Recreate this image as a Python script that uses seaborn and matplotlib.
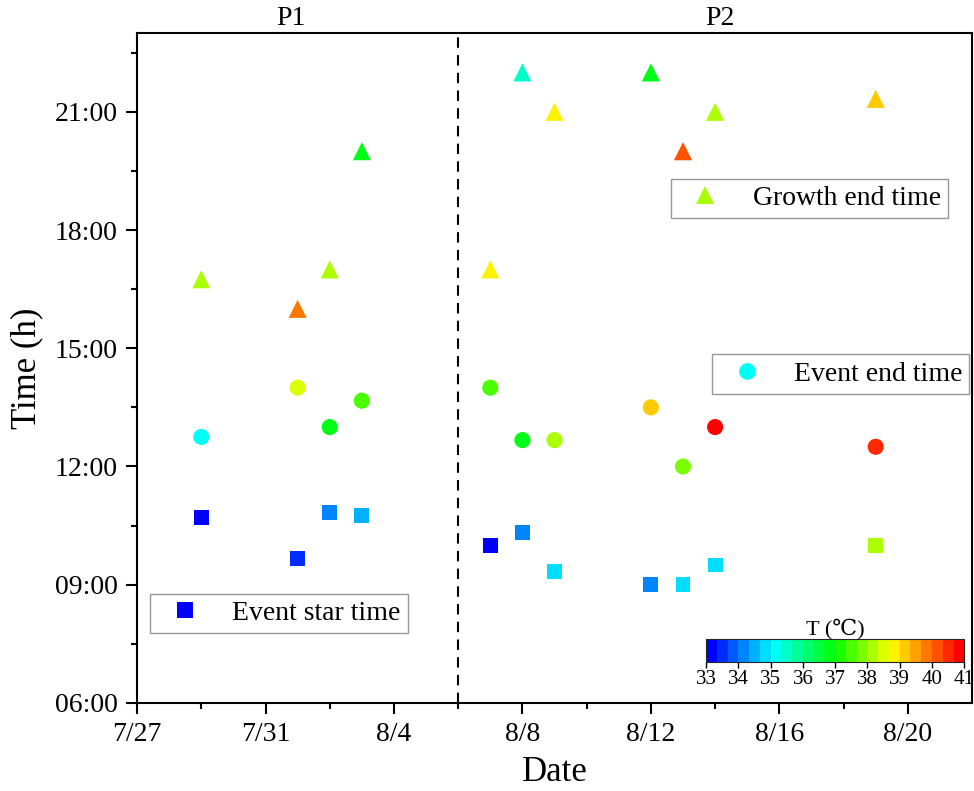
import numpy as np
import pandas as pd
import matplotlib
matplotlib.use("Agg")
import matplotlib.pyplot as plt
from matplotlib.colors import LinearSegmentedColormap, Normalize
from matplotlib.cm import ScalarMappable
from matplotlib.lines import Line2D
import seaborn as sns

# ── data ──────────────────────────────────────────────────────────────────────
dates = ["7/29", "8/1", "8/2", "8/3", "8/7", "8/8", "8/9", "8/12", "8/13", "8/14", "8/19"]

# times in hours
start_time = [10.70, 9.67, 10.83, 10.75, 10.00, 10.33, 9.33, 9.00, 9.00, 9.50, 10.00]
end_time   = [12.75, 14.00, 13.00, 13.67, 14.00, 12.67, 12.67, 13.50, 12.00, 13.00, 12.50]
growth_end = [16.75, 16.00, 17.00, 20.00, 17.00, 22.00, 21.00, 22.00, 20.00, 21.00, 21.33]

# temperature (degC) at each time
start_T  = [33.1, 33.4, 34.3, 34.6, 33.3, 34.0, 34.9, 34.3, 34.9, 34.9, 38.1]
end_T    = [35.3, 38.5, 36.8, 37.4, 37.4, 36.8, 38.1, 39.3, 37.8, 41.0, 40.6]
growth_T = [38.1, 39.7, 38.1, 36.8, 38.8, 35.4, 38.8, 36.9, 40.2, 38.1, 39.3]

x_ticklabels = ["7/27", "7/31", "8/4", "8/8", "8/12", "8/16", "8/20"]
y_ticklabels = ["06:00", "09:00", "12:00", "15:00", "18:00", "21:00"]
split_date = "8/6"

# day offsets from 7/27
ref = pd.to_datetime("7/27", format="%m/%d")
day = (pd.to_datetime(dates, format="%m/%d") - ref).days.values
split_day = (pd.to_datetime(split_date, format="%m/%d") - ref).days
xtick_pos = (pd.to_datetime(x_ticklabels, format="%m/%d") - ref).days.values
ytick_pos = [int(s[:2]) for s in y_ticklabels]

df = pd.DataFrame({"day": day,
                   "start": start_time, "end": end_time, "growth": growth_end,
                   "T_start": start_T, "T_end": end_T, "T_growth": growth_T})

# ── style ─────────────────────────────────────────────────────────────────────
sns.set_theme(style="ticks")
plt.rcParams["font.family"] = ["Liberation Serif", "DejaVu Serif"]
plt.rcParams["text.color"] = "black"
plt.rcParams["axes.labelcolor"] = "black"
plt.rcParams["xtick.color"] = "black"
plt.rcParams["ytick.color"] = "black"

cmap = LinearSegmentedColormap.from_list(
    "rainbow_origin",
    [(0.0, "#0000ff"), (0.25, "#00ffff"), (0.5, "#00ff00"),
     (0.725, "#ffff00"), (1.0, "#ff0000")], N=24)
norm = Normalize(33, 41)

fig = plt.figure(figsize=(9.74, 7.91), dpi=100)
ax = fig.add_axes([0.1407, 0.1113, 0.8573, 0.847])

kw = dict(palette=cmap, hue_norm=(33, 41), legend=False, linewidth=0, ax=ax)
sns.scatterplot(data=df, x="day", y="start", hue="T_start", marker="s", s=115, **kw)
sns.scatterplot(data=df, x="day", y="end", hue="T_end", marker="o", s=135, **kw)
sns.scatterplot(data=df, x="day", y="growth", hue="T_growth", marker="^", s=170, **kw)

ax.axvline(split_day, color="black", lw=1.5, ls=(0, (5, 3.5)))

ax.set_xlim(0, 26)
ax.set_ylim(6, 23)
ax.set_xticks(xtick_pos)
ax.set_xticklabels(x_ticklabels)
ax.set_xticks(xtick_pos[:-1] + 2, minor=True)
ax.set_yticks(ytick_pos)
ax.set_yticklabels(y_ticklabels)
ax.set_yticks(np.arange(7.5, 23, 3), minor=True)

ax.tick_params(axis="both", which="major", direction="out", length=8, width=1.5,
               labelsize=20, colors="black", pad=6)
ax.tick_params(axis="both", which="minor", direction="out", length=4.5, width=1.5)
ax.tick_params(top=False, right=False)
for sp in ax.spines.values():
    sp.set_linewidth(1.5)
    sp.set_color("black")

ax.set_xlabel("Date", fontsize=25, labelpad=6)
ax.set_ylabel("Time (h)", fontsize=25, labelpad=8)

ax.text(0.184, 1.003, "P1", transform=ax.transAxes, ha="center", va="bottom", fontsize=20)
ax.text(0.698, 1.003, "P2", transform=ax.transAxes, ha="center", va="bottom", fontsize=20)

# ── legends (three separate boxes) ────────────────────────────────────────────
def marker_handle(marker, T, ms):
    return Line2D([], [], ls="none", marker=marker, markersize=ms,
                  markerfacecolor=cmap(norm(T)), markeredgewidth=0)

leg_kw = dict(frameon=True, fancybox=False, edgecolor="#7f7f7f", fontsize=20,
              handletextpad=0.7, borderpad=0.25, handlelength=2.0, loc="center")
leg1 = ax.legend([marker_handle("^", 38.1, 13)], ["Growth end time"],
                 bbox_to_anchor=(0.805, 0.753), **leg_kw)
leg1.get_frame().set_linewidth(1.0)
ax.add_artist(leg1)
leg2 = ax.legend([marker_handle("o", 35.3, 12)], ["Event end time"],
                 bbox_to_anchor=(0.8425, 0.491), **leg_kw)
leg2.get_frame().set_linewidth(1.0)
ax.add_artist(leg2)
leg3 = ax.legend([marker_handle("s", 33.1, 11)], ["Event star time"],
                 bbox_to_anchor=(0.170, 0.134), **leg_kw)
leg3.get_frame().set_linewidth(1.0)

# ── colorbar ──────────────────────────────────────────────────────────────────
cax = fig.add_axes([0.725, 0.163, 0.265, 0.029])
sm = ScalarMappable(norm=norm, cmap=cmap)
cb = fig.colorbar(sm, cax=cax, orientation="horizontal", ticks=np.arange(33, 42))
cb.outline.set_linewidth(0.8)
cb.ax.tick_params(labelsize=15, length=4, width=1, direction="out", pad=2,
                  colors="black")
cb.ax.set_title("T (\u2103)", fontsize=16, pad=3)

fig.savefig("out.png", dpi=100)
